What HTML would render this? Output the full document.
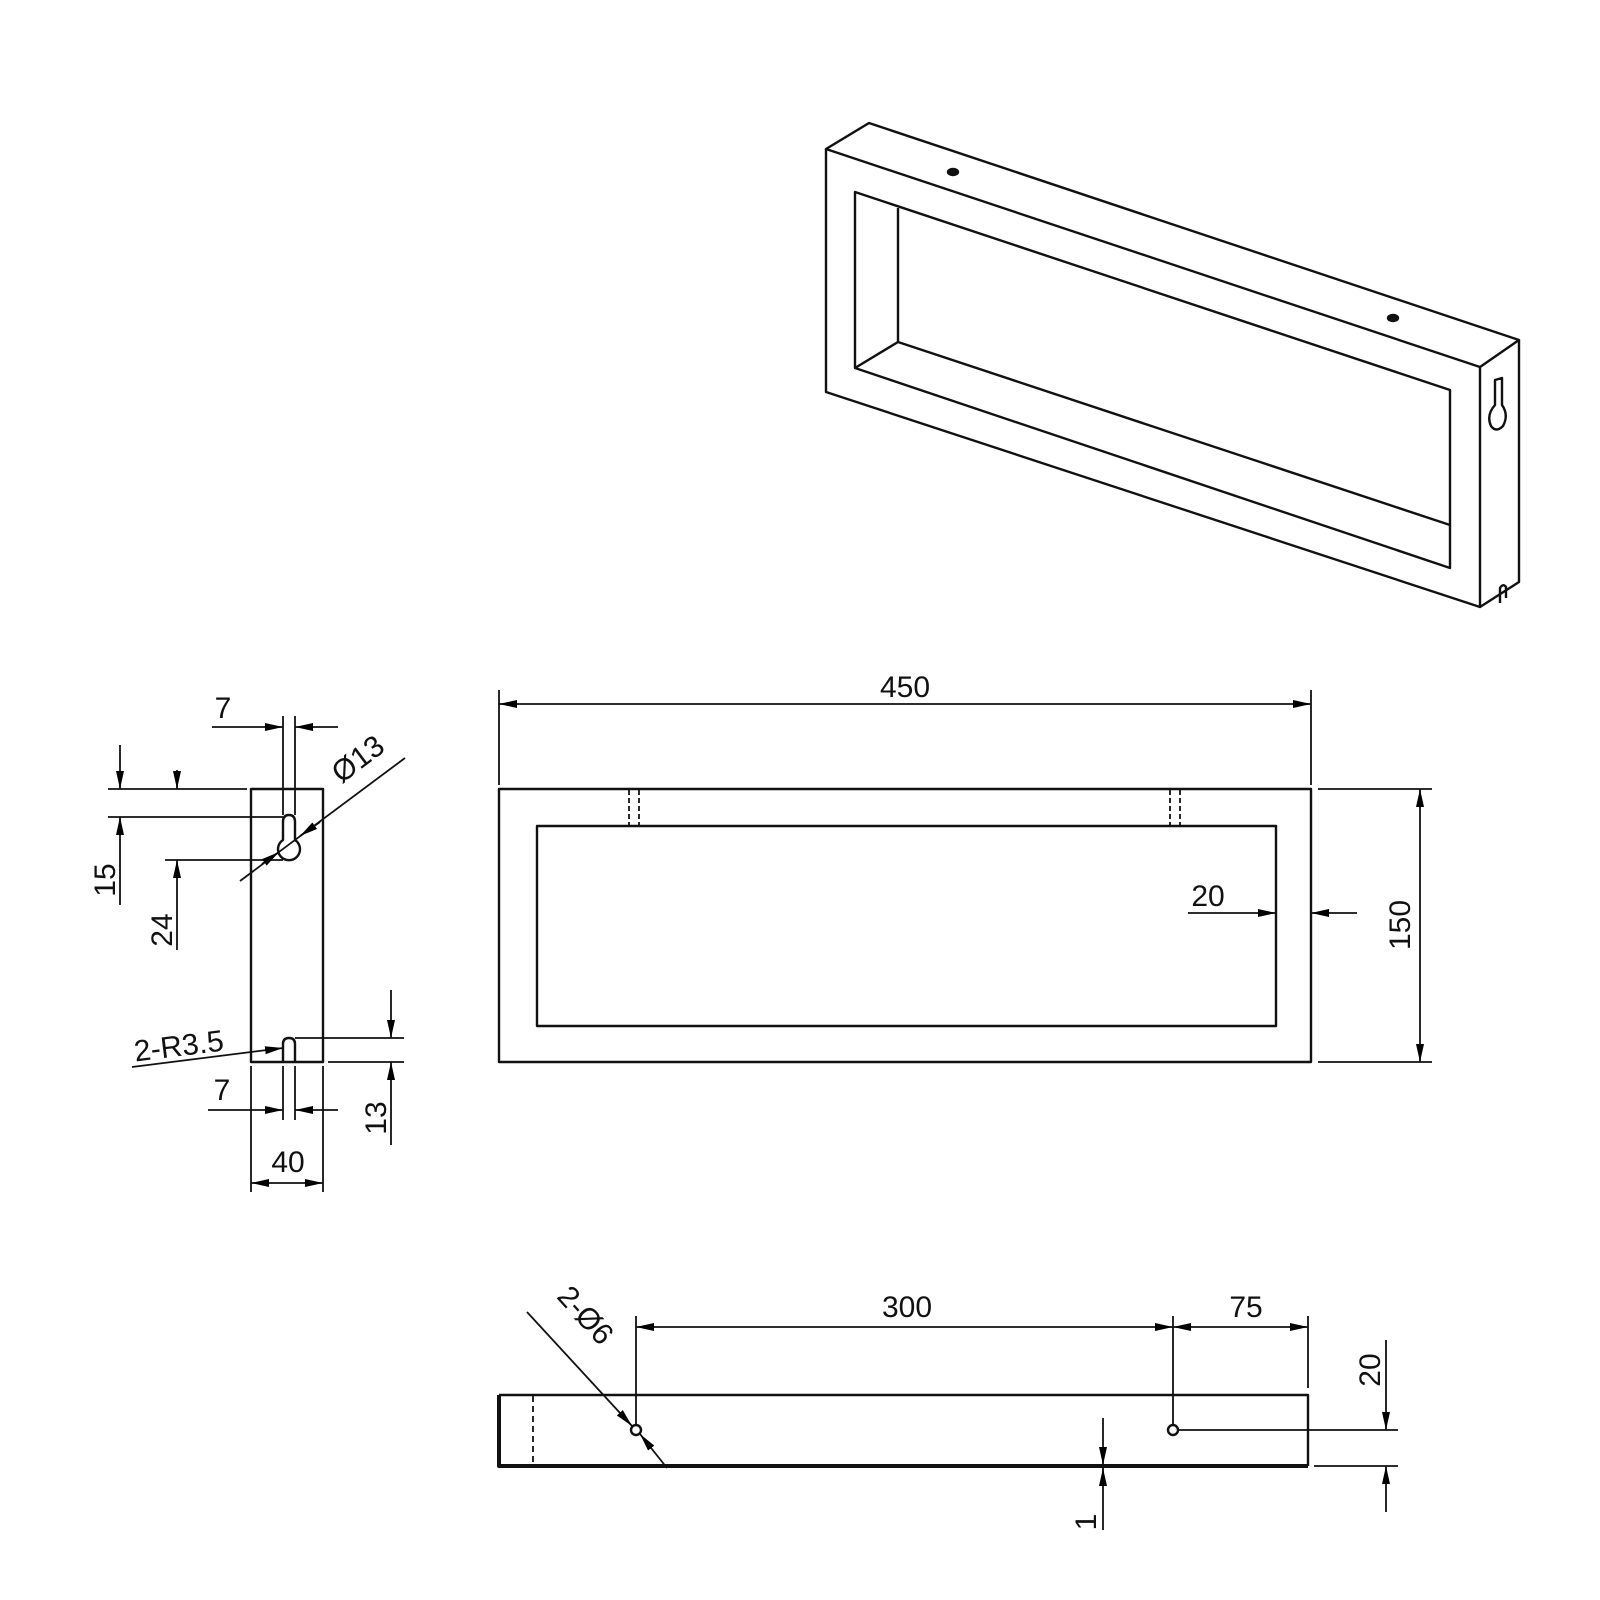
<!DOCTYPE html>
<html><head><meta charset="utf-8"><style>html,body{margin:0;padding:0;background:#fff}svg{display:block}</style></head>
<body>
<svg width="1600" height="1600" viewBox="0 0 1600 1600" xmlns="http://www.w3.org/2000/svg">
<defs>
<marker id="a" markerUnits="userSpaceOnUse" markerWidth="18" markerHeight="8" refX="18" refY="4" orient="auto-start-reverse">
<path d="M0,0 L18,4 L0,8 z" fill="#000"/>
</marker>
</defs>
<g fill="none" stroke="#111" stroke-width="2.4" stroke-linejoin="round">
<path d="M826,149 L869,123 L1519,340 L1480,367 Z"/>
<path d="M826,149 L826,392 L1480,607 L1480,367"/>
<path d="M1480,607 L1519,582 L1519,340"/>
<path d="M855,192 L855,368 L1450,568 L1450,390 Z"/>
<path d="M898,208 L898,342 L1450,525"/>
<path d="M855,368 L898,342"/>
<ellipse cx="953" cy="172" rx="5" ry="3" fill="#111"/>
<ellipse cx="1393" cy="318" rx="5" ry="3" fill="#111"/>
<path d="M1495,380 L1502,378 L1502,405 Q1509,415 1503,426 Q1496,433 1491,426 Q1486,415 1495,405 Z"/>
<path d="M1500,603 L1500,588 Q1503,583 1506,587 L1506,598"/>
<rect x="499" y="789" width="812" height="273"/>
<rect x="537" y="826" width="739" height="200"/>
<g stroke-dasharray="5,3" stroke-width="1.8">
<line x1="629" y1="790" x2="629" y2="826"/><line x1="639" y1="790" x2="639" y2="826"/>
<line x1="1170" y1="790" x2="1170" y2="826"/><line x1="1180" y1="790" x2="1180" y2="826"/>
</g>
<g stroke-width="1.8">
<line x1="499" y1="690" x2="499" y2="785"/><line x1="1311" y1="690" x2="1311" y2="785"/>
<line x1="499" y1="704" x2="1311" y2="704" marker-start="url(#a)" marker-end="url(#a)"/>
<line x1="1318" y1="789" x2="1432" y2="789"/><line x1="1318" y1="1062" x2="1432" y2="1062"/>
<line x1="1420" y1="789" x2="1420" y2="1062" marker-start="url(#a)" marker-end="url(#a)"/>
<line x1="1188" y1="913" x2="1276" y2="913" marker-end="url(#a)"/>
<line x1="1357" y1="913" x2="1311" y2="913" marker-end="url(#a)"/>
</g>
<rect x="251" y="789" width="72" height="273"/>
<path d="M283,840 L283,822 Q283,815 289,815 Q295,815 295,822 L295,840 A11,11 0 1 1 283,840 Z" fill="#fff"/>
<path d="M283,1062 L283,1044 Q283,1038 289,1038 Q295,1038 295,1044 L295,1062"/>
<g stroke-width="1.8">
<line x1="283" y1="716" x2="283" y2="815"/><line x1="295" y1="716" x2="295" y2="815"/>
<line x1="212" y1="727" x2="283" y2="727" marker-end="url(#a)"/>
<line x1="338" y1="727" x2="295" y2="727" marker-end="url(#a)"/>
<line x1="108" y1="789" x2="247" y2="789"/>
<line x1="108" y1="817" x2="283" y2="817"/>
<line x1="165" y1="860" x2="283" y2="860"/>
<line x1="120" y1="745" x2="120" y2="789" marker-end="url(#a)"/>
<line x1="120" y1="905" x2="120" y2="817" marker-end="url(#a)"/>
<line x1="177" y1="770" x2="177" y2="789" marker-end="url(#a)"/>
<line x1="177" y1="950" x2="177" y2="860" marker-end="url(#a)"/>
<line x1="240" y1="881" x2="405" y2="758"/>
<path d="M262,864 L279,852" marker-end="url(#a)"/>
<path d="M320,822 L300,836" marker-end="url(#a)"/>
<line x1="295" y1="1038" x2="404" y2="1038"/>
<line x1="328" y1="1062" x2="404" y2="1062"/>
<line x1="391" y1="990" x2="391" y2="1038" marker-end="url(#a)"/>
<line x1="391" y1="1145" x2="391" y2="1062" marker-end="url(#a)"/>
<line x1="132" y1="1067" x2="283" y2="1048" marker-end="url(#a)"/>
<line x1="283" y1="1066" x2="283" y2="1120"/><line x1="295" y1="1066" x2="295" y2="1120"/>
<line x1="208" y1="1110" x2="283" y2="1110" marker-end="url(#a)"/>
<line x1="338" y1="1110" x2="295" y2="1110" marker-end="url(#a)"/>
<line x1="251" y1="1066" x2="251" y2="1192"/><line x1="323" y1="1066" x2="323" y2="1192"/>
<line x1="251" y1="1183" x2="323" y2="1183" marker-start="url(#a)" marker-end="url(#a)"/>
</g>
<path d="M499,1395 L1308,1395 L1308,1466"/>
<path d="M499,1395 L499,1466 L1308,1466" stroke-width="4"/>
<line x1="533" y1="1396" x2="533" y2="1466" stroke-dasharray="6,4" stroke-width="1.8"/>
<circle cx="636" cy="1430" r="5" fill="#fff"/>
<circle cx="1173" cy="1430" r="5" fill="#fff"/>
<g stroke-width="1.8">
<line x1="636" y1="1316" x2="636" y2="1425"/>
<line x1="1173" y1="1316" x2="1173" y2="1425"/>
<line x1="1308" y1="1316" x2="1308" y2="1388"/>
<line x1="636" y1="1327" x2="1173" y2="1327" marker-start="url(#a)" marker-end="url(#a)"/>
<line x1="1173" y1="1327" x2="1308" y2="1327" marker-start="url(#a)" marker-end="url(#a)"/>
<line x1="527" y1="1312" x2="632" y2="1426" marker-end="url(#a)"/>
<line x1="667" y1="1468" x2="640" y2="1434" marker-end="url(#a)"/>
<line x1="1178" y1="1430" x2="1398" y2="1430"/>
<line x1="1314" y1="1466" x2="1398" y2="1466"/>
<line x1="1386" y1="1340" x2="1386" y2="1430" marker-end="url(#a)"/>
<line x1="1386" y1="1512" x2="1386" y2="1466" marker-end="url(#a)"/>
<line x1="1103" y1="1418" x2="1103" y2="1465" marker-end="url(#a)"/>
<line x1="1103" y1="1530" x2="1103" y2="1468" marker-end="url(#a)"/>
</g>
</g>
<g font-family="Liberation Sans, sans-serif" font-size="30" fill="#111" text-anchor="middle">
<text x="905" y="697">450</text>
<text x="1208" y="906">20</text>
<text transform="translate(1410,925) rotate(-90)">150</text>
<text x="223" y="718">7</text>
<text transform="translate(364,767) rotate(-37)">Ø13</text>
<text transform="translate(115,880) rotate(-90)">15</text>
<text transform="translate(172,930) rotate(-90)">24</text>
<text transform="translate(180,1056) rotate(-7)">2-R3.5</text>
<text x="222" y="1100">7</text>
<text transform="translate(386,1118) rotate(-90)">13</text>
<text x="288" y="1172">40</text>
<text x="907" y="1317">300</text>
<text x="1246" y="1317">75</text>
<text transform="translate(578,1322) rotate(48)">2-Ø6</text>
<text transform="translate(1380,1370) rotate(-90)">20</text>
<text transform="translate(1096,1522) rotate(-90)">1</text>
</g>
</svg>
</body></html>
